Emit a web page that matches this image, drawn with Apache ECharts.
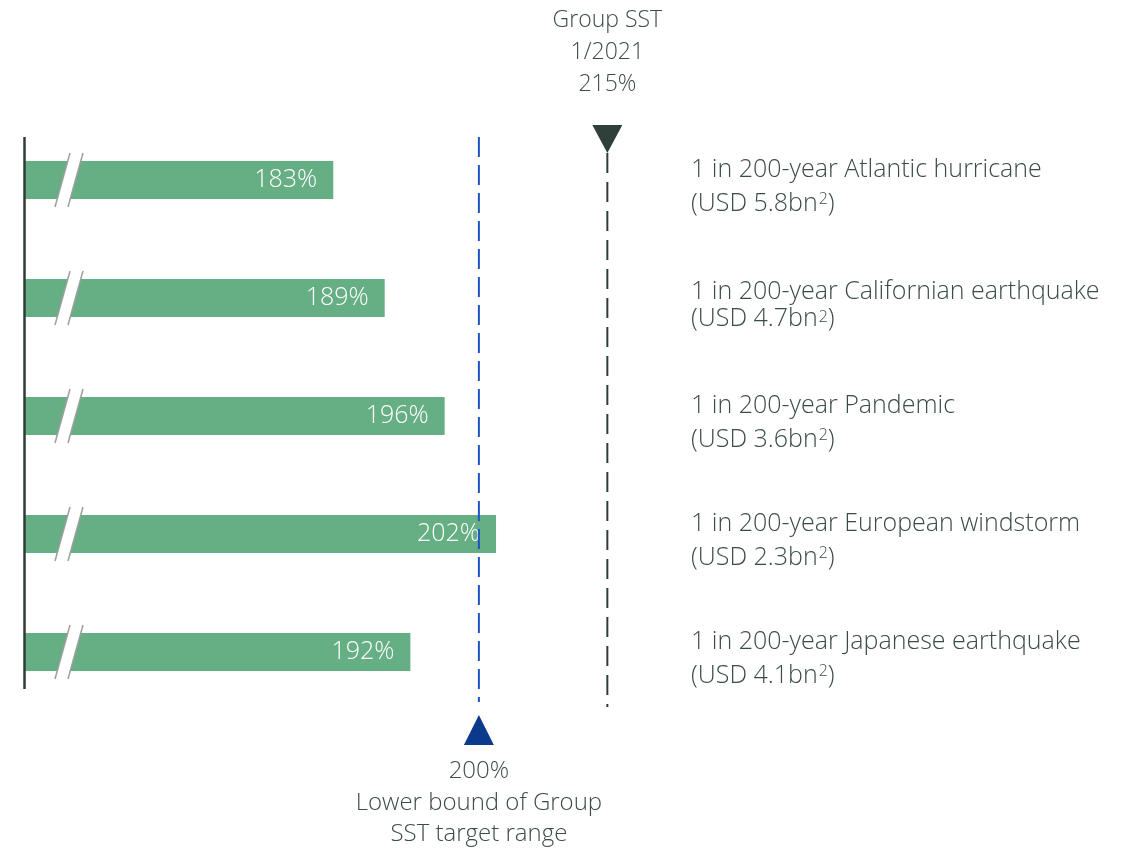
<!DOCTYPE html>
<html>
<head>
<meta charset="utf-8">
<script src="https://cdn.jsdelivr.net/npm/echarts@6/dist/echarts.min.js"></script>
<style>
  html, body { margin: 0; padding: 0; background: #ffffff; }
  #chart { width: 1133px; height: 848px; }
</style>
</head>
<body>
<div id="chart"></div>
<script>
// Stress scenarios and resulting Group SST ratios
const scenarios = [
  '1 in 200-year Atlantic hurricane',
  '1 in 200-year Californian earthquake',
  '1 in 200-year Pandemic',
  '1 in 200-year European windstorm',
  '1 in 200-year Japanese earthquake'
];
const lossesUsdBn = ['5.8', '4.7', '3.6', '2.3', '4.1'];
const sstRatios = [183, 189, 196, 202, 192];

// Reference levels
const targetLowerBound = 200;
const groupSst = 215;
const groupSstDate = '1/2021';

const TEXT = '#3b4c47';
const FONT = 'Open Sans';
const WEIGHT = 300;
const BAR = '#66ae83';

const chart = echarts.init(document.getElementById('chart'), null, { renderer: 'canvas' });

// Truncated axis: vertical baseline plus a "//" break on each bar
function renderBreak(params, api) {
  const cs = params.coordSys;
  const y = api.coord([api.value(0), api.value(1)])[1];
  const x0 = cs.x;
  const h = 27;
  const children = [
    { type: 'polygon', shape: { points: [[x0 + 30, y + h], [x0 + 45, y - h], [x0 + 58, y - h], [x0 + 43, y + h]] },
      style: { fill: '#ffffff' } },
    { type: 'line', shape: { x1: x0 + 30, y1: y + h, x2: x0 + 45, y2: y - h },
      style: { stroke: '#9aa09d', lineWidth: 1.5 } },
    { type: 'line', shape: { x1: x0 + 43, y1: y + h, x2: x0 + 58, y2: y - h },
      style: { stroke: '#9aa09d', lineWidth: 1.5 } }
  ];
  if (params.dataIndex === 0) {
    children.push({ type: 'line', shape: { x1: x0 - 0.5, y1: cs.y + 16, x2: x0 - 0.5, y2: cs.y + cs.height - 22 },
      style: { stroke: '#2f3b38', lineWidth: 2.5 } });
  }
  return { type: 'group', children };
}

// Vertical reference lines with marker triangles and captions
function renderReference(params, api) {
  const cs = params.coordSys;
  const x = api.coord([api.value(0), 0])[0];
  const top = cs.y;
  const bottom = cs.y + cs.height;
  const textStyle = { fill: TEXT, fontFamily: FONT, fontWeight: WEIGHT, align: 'center', verticalAlign: 'middle' };
  if (params.dataIndex === 0) {
    return {
      type: 'group',
      children: [
        { type: 'line', shape: { x1: x, y1: top + 16, x2: x, y2: bottom - 9 },
          style: { stroke: '#1d56c4', lineWidth: 2, lineDash: [20, 8] } },
        { type: 'polygon', shape: { points: [[x, bottom + 4], [x - 15, bottom + 34], [x + 15, bottom + 34]] },
          style: { fill: '#0b3a8c' } },
        { type: 'text', x: x, y: bottom + 92,
          style: Object.assign({ text: targetLowerBound + '%\nLower bound of Group\nSST target range', fontSize: 24, lineHeight: 31.5 }, textStyle) }
      ]
    };
  }
  return {
    type: 'group',
    children: [
      { type: 'line', shape: { x1: x, y1: top + 32, x2: x, y2: bottom - 4 },
        style: { stroke: '#2e3d38', lineWidth: 2, lineDash: [20, 9] } },
      { type: 'polygon', shape: { points: [[x - 15, top + 4], [x + 15, top + 4], [x, top + 32]] },
        style: { fill: '#2f3f3a' } },
      { type: 'text', x: x, y: top - 69,
        style: Object.assign({ text: 'Group SST\n' + groupSstDate + '\n' + groupSst + '%', fontSize: 23, lineHeight: 32 }, textStyle) }
    ]
  };
}

const option = {
  backgroundColor: '#ffffff',
  animation: false,
  grid: { left: 25, top: 121, width: 656, height: 590, containLabel: false },
  xAxis: { type: 'value', min: 147, max: 223.6, show: false },
  yAxis: [
    {
      type: 'category', data: scenarios, inverse: true,
      axisLine: { show: false }, axisTick: { show: false }, axisLabel: { show: false }, splitLine: { show: false }
    },
    {
      type: 'category', data: scenarios, inverse: true, position: 'right',
      axisLine: { show: false }, axisTick: { show: false }, splitLine: { show: false },
      axisLabel: {
        margin: 10, align: 'left', padding: [14, 0, 0, 0],
        formatter: function (value, idx) {
          const k = idx === 1 ? 't' : 'n';
          return '{' + k + '|' + value + '}\n{' + k + '|(USD ' + lossesUsdBn[idx] + 'bn}{sup|2}{' + k + '|)}';
        },
        rich: {
          n: { fontFamily: FONT, fontWeight: WEIGHT, fontSize: 25, color: TEXT, lineHeight: 34 },
          t: { fontFamily: FONT, fontWeight: WEIGHT, fontSize: 25, color: TEXT, lineHeight: 27 },
          sup: { fontFamily: FONT, fontWeight: WEIGHT, fontSize: 16, color: TEXT, verticalAlign: 'top', padding: [4, 0, 0, 1] }
        }
      }
    }
  ],
  series: [
    {
      type: 'bar', yAxisIndex: 0, data: sstRatios, barWidth: 38,
      itemStyle: { color: BAR },
      label: {
        show: true, position: 'insideRight', distance: 16,
        formatter: '{c}%', color: '#ffffff', fontFamily: FONT, fontWeight: WEIGHT, fontSize: 25
      },
      z: 2
    },
    {
      type: 'custom', yAxisIndex: 0, renderItem: renderBreak,
      data: sstRatios.map((v, i) => [v, i]), z: 3, silent: true
    },
    {
      type: 'custom', yAxisIndex: 0, renderItem: renderReference,
      data: [[targetLowerBound, 0], [groupSst, 0]], z: 4, silent: true, clip: false
    }
  ]
};

chart.setOption(option);
</script>
</body>
</html>
